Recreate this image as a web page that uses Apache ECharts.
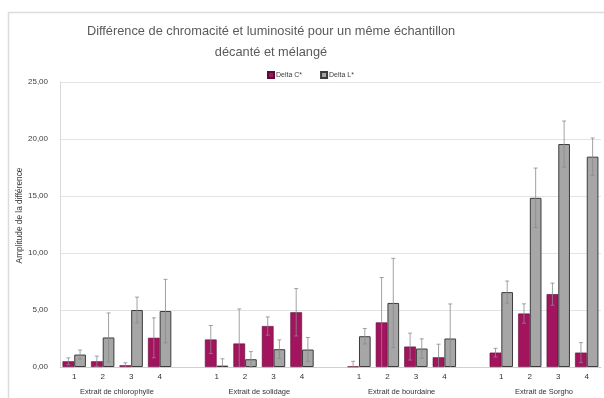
<!DOCTYPE html>
<html>
<head>
<meta charset="utf-8">
<script src="https://cdn.jsdelivr.net/npm/echarts@6/dist/echarts.min.js"></script>
<style>
  html, body { margin: 0; padding: 0; background: #fff; }
  #chart { width: 604px; height: 398px; }
</style>
</head>
<body>
<div id="chart"></div>
<script>
// Sample groups (extracts) and sample numbers within each group
const groups = ['Extrait de chlorophylle', 'Extrait de solidage', 'Extrait de bourdaine', 'Extrait de Sorgho'];
const samples = ['1', '2', '3', '4'];

// Delta C* (chroma difference) per group, with its error
const deltaC = [
  [0.50, 0.50, 0.15, 2.56],
  [2.41, 2.06, 3.59, 4.80],
  [0.05, 3.91, 1.79, 0.85],
  [1.26, 4.69, 6.39, 1.26]
];
const errC = [
  [0.30, 0.45, 0.22, 1.75],
  [1.23, 3.03, 0.80, 2.08],
  [0.45, 3.94, 1.18, 1.15],
  [0.38, 0.85, 0.97, 0.88]
];

// Delta L* (lightness difference) per group, with its error
const deltaL = [
  [1.09, 2.59, 5.00, 4.91],
  [0.12, 0.68, 1.56, 1.53],
  [2.70, 5.62, 1.62, 2.50],
  [6.57, 14.84, 19.56, 18.45]
];
const errL = [
  [0.40, 2.15, 1.13, 2.78],
  [0.60, 0.67, 0.82, 1.06],
  [0.68, 3.91, 0.85, 3.03],
  [0.97, 2.61, 2.02, 1.64]
];

const yTicks = { min: 0, max: 25, interval: 5 };

// Flatten into one category axis, leaving an empty slot between groups
const categories = [];
const cData = [], lData = [], cErr = [], lErr = [];
groups.forEach((g, gi) => {
  samples.forEach((s, si) => {
    const idx = categories.length;
    categories.push(s);
    cData.push(deltaC[gi][si]);
    lData.push(deltaL[gi][si]);
    cErr.push([idx, deltaC[gi][si], errC[gi][si]]);
    lErr.push([idx, deltaL[gi][si], errL[gi][si]]);
  });
  if (gi < groups.length - 1) {
    categories.push('');
    cData.push('-');
    lData.push('-');
  }
});

// Secondary axis for group names: half-category steps, names at group centres
const halfSteps = categories.length * 2 + 1;
const groupAxis = new Array(halfSteps).fill('');
let start = 0;
groups.forEach((g) => {
  groupAxis[start * 2 + samples.length] = g;
  start += samples.length + 1;
});

const CAT_GAP = 0.18;
const MAGENTA = '#A3145E';
const GREY = '#A6A6A6';

function errorRenderer(side) {
  return function (params, api) {
    const idx = api.value(0);
    const v = api.value(1);
    const e = api.value(2);
    const catW = api.size([1, 0])[0];
    const bw = catW * (1 - CAT_GAP) / 2;
    const x = api.coord([idx, 0])[0] + side * bw / 2;
    const yTop = api.coord([idx, v + e])[1];
    const low = v - e;
    const yBot = api.coord([idx, Math.max(low, 0)])[1];
    const cap = 2;
    const style = { stroke: '#8a8a8a', lineWidth: 0.8, fill: null };
    const children = [
      { type: 'line', shape: { x1: x, y1: yTop, x2: x, y2: yBot }, style },
      { type: 'line', shape: { x1: x - cap, y1: yTop, x2: x + cap, y2: yTop }, style }
    ];
    if (low >= 0) {
      children.push({ type: 'line', shape: { x1: x - cap, y1: yBot, x2: x + cap, y2: yBot }, style });
    }
    return { type: 'group', children };
  };
}

const chart = echarts.init(document.getElementById('chart'), null, { renderer: 'canvas' });
chart.setOption({
  animation: false,
  textStyle: { fontFamily: 'Liberation Sans, Arial, sans-serif' },
  graphic: [{
    type: 'rect',
    shape: { x: 8.5, y: 12.5, width: 800, height: 600 },
    style: { fill: null, stroke: '#dcdcdc', lineWidth: 1.5 },
    silent: true,
    z: -10
  }],
  title: {
    text: 'Différence de chromacité et luminosité pour un même échantillon\ndécanté et mélangé',
    left: 266,
    top: 16,
    textAlign: 'center',
    textStyle: { fontSize: 12.8, fontWeight: 'normal', color: '#5a5a5a', lineHeight: 21 }
  },
  legend: {
    left: 262,
    top: 66,
    itemWidth: 6,
    itemHeight: 6,
    itemGap: 18,
    icon: 'rect',
    textStyle: { fontSize: 7, color: '#404040', padding: [0, 0, 0, -3] },
    data: ['Delta C*', 'Delta L*']
  },
  grid: { left: 60, right: 1, top: 82, bottom: 31 },
  xAxis: [{
    type: 'category',
    data: categories,
    axisLine: { lineStyle: { color: '#d0d0d0' } },
    axisTick: { show: false },
    axisLabel: { interval: 0, fontSize: 8, color: '#333', margin: 6 }
  }, {
    type: 'category',
    position: 'bottom',
    boundaryGap: false,
    data: groupAxis,
    axisLine: { show: false },
    axisTick: { show: false },
    axisLabel: { interval: 0, fontSize: 7.5, color: '#333', margin: 21 }
  }],
  yAxis: {
    type: 'value',
    min: yTicks.min,
    max: yTicks.max,
    interval: yTicks.interval,
    name: 'Amplitude de la différence',
    nameLocation: 'middle',
    nameGap: 40,
    nameMoveOverlap: false,
    nameTextStyle: { fontSize: 8.3, color: '#333', verticalAlign: 'middle', padding: [0, 0, 0, 18] },
    axisLine: { show: true, lineStyle: { color: '#d9d9d9' } },
    axisTick: { show: false },
    splitLine: { lineStyle: { color: '#e3e3e3' } },
    axisLabel: {
      fontSize: 8, color: '#404040', margin: 12,
      formatter: (v) => v.toFixed(2).replace('.', ',')
    }
  },
  series: [{
    name: 'Delta C*',
    type: 'bar',
    data: cData,
    barGap: '0%',
    barCategoryGap: (CAT_GAP * 100) + '%',
    itemStyle: { color: MAGENTA, borderColor: '#5e0c35', borderWidth: 0.6 }
  }, {
    name: 'Delta L*',
    type: 'bar',
    data: lData,
    barGap: '0%',
    barCategoryGap: (CAT_GAP * 100) + '%',
    itemStyle: { color: GREY, borderColor: '#3c3c3c', borderWidth: 1 }
  }, {
    type: 'custom',
    renderItem: errorRenderer(-1),
    data: cErr,
    encode: { x: 0, y: 1 },
    z: 5,
    silent: true
  }, {
    type: 'custom',
    renderItem: errorRenderer(1),
    data: lErr,
    encode: { x: 0, y: 1 },
    z: 5,
    silent: true
  }]
});
</script>
</body>
</html>
